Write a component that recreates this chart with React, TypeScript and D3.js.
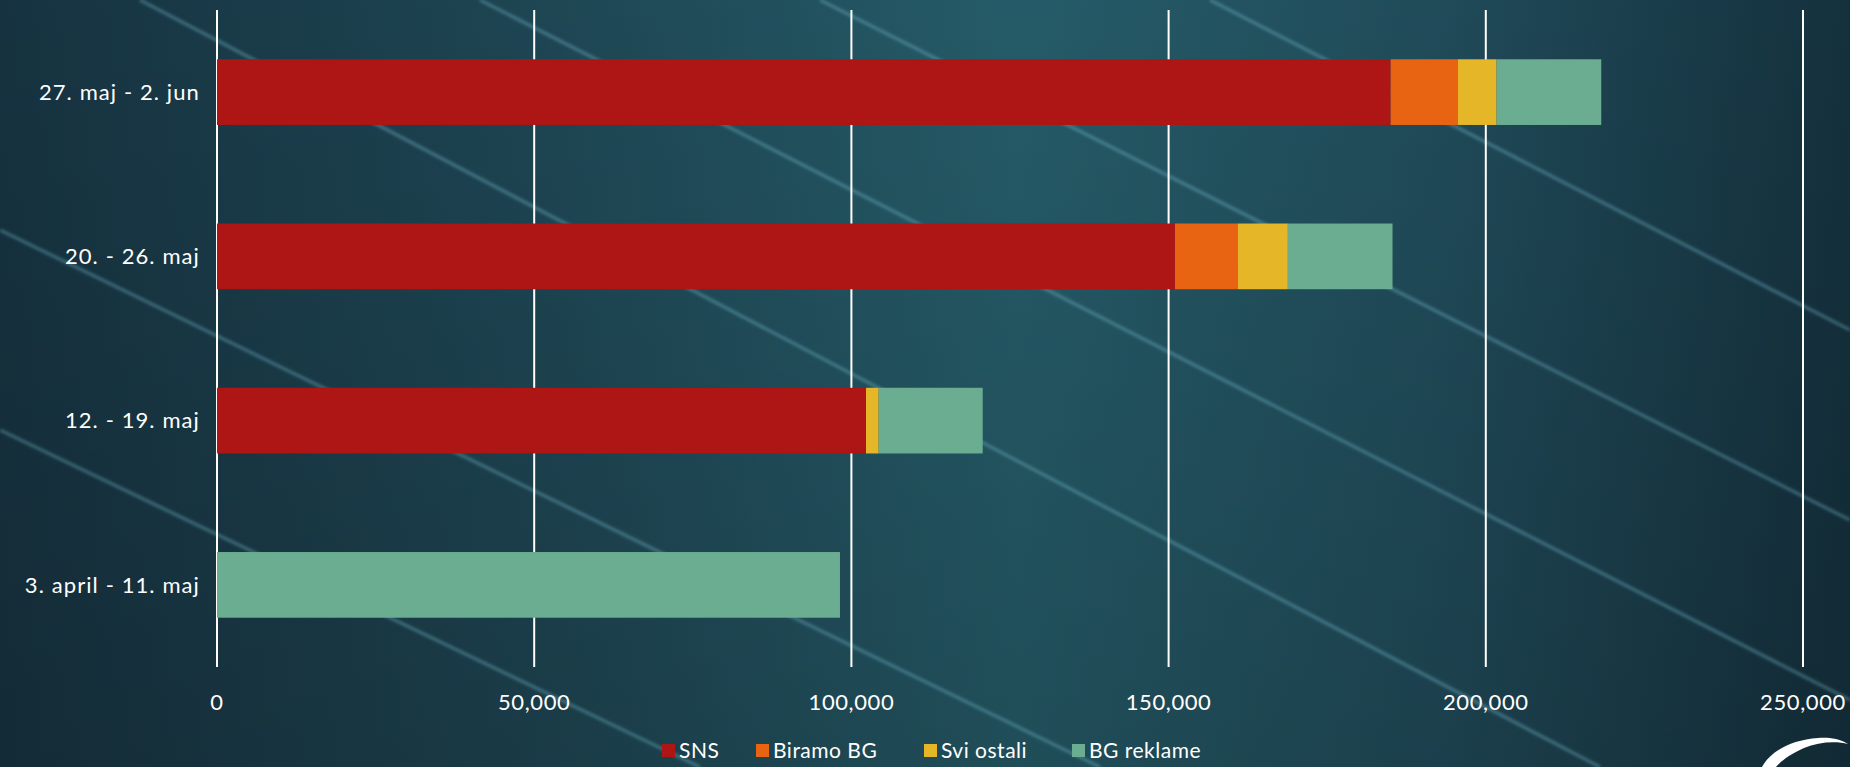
import * as d3 from "d3";
import * as React from "react";
import { useEffect, useRef } from "react";

// data
const periods = ["27. maj - 2. jun", "20. - 26. maj", "12. - 19. maj", "3. april - 11. maj"];
const seriesNames = ["SNS", "Biramo BG", "Svi ostali", "BG reklame"];
const sns = [185000, 151000, 102300, 0];
const biramo = [10600, 9900, 0, 0];
const ostali = [6100, 7900, 2000, 0];
const reklame = [16500, 16500, 16400, 98200];
const ticks = [0, 50000, 100000, 150000, 200000, 250000];
const colors = ["#ae1515", "#e86412", "#e4b628", "#6aad90"];

const W = 1850;
const H = 767;
const FONT = "Lato, 'Open Sans', sans-serif";

export default function App() {
  const ref = useRef<SVGSVGElement>(null);

  useEffect(() => {
    document.body.style.margin = "0";
    const svg = d3.select(ref.current);
    svg.selectAll("*").remove();

    // background
    const defs = svg.append("defs");
    const bg = defs.append("linearGradient").attr("id", "bg").attr("x1", 0).attr("x2", 1).attr("y1", 0).attr("y2", 0);
    bg.append("stop").attr("offset", "0%").attr("stop-color", "#173442");
    bg.append("stop").attr("offset", "30%").attr("stop-color", "#1f4856");
    bg.append("stop").attr("offset", "55%").attr("stop-color", "#265e6b");
    bg.append("stop").attr("offset", "78%").attr("stop-color", "#214d5c");
    bg.append("stop").attr("offset", "100%").attr("stop-color", "#15323f");
    const shade = defs.append("linearGradient").attr("id", "shade").attr("x1", 0).attr("x2", 0).attr("y1", 0).attr("y2", 1);
    shade.append("stop").attr("offset", "0%").attr("stop-color", "#000").attr("stop-opacity", 0.03);
    shade.append("stop").attr("offset", "100%").attr("stop-color", "#000").attr("stop-opacity", 0.18);
    defs.append("filter").attr("id", "soft").append("feGaussianBlur").attr("stdDeviation", 1.6);
    svg.append("rect").attr("width", W).attr("height", H).attr("fill", "url(#bg)");
    svg.append("rect").attr("width", W).attr("height", H).attr("fill", "url(#shade)");

    // soft diagonal streaks
    const streaks: [number, number, number, number][] = [
      [480, 0, 1850, 700],
      [820, 0, 1850, 520],
      [1210, 0, 1850, 330],
      [0, 230, 1100, 767],
      [140, 0, 1600, 767],
      [0, 430, 700, 767],
    ];
    svg.append("g").attr("filter", "url(#soft)").selectAll("line").data(streaks).join("line")
      .attr("x1", d => d[0]).attr("y1", d => d[1]).attr("x2", d => d[2]).attr("y2", d => d[3])
      .attr("stroke", "#7cc2da").attr("stroke-opacity", 0.4).attr("stroke-width", 3);

    const margin = { left: 217, right: 47, top: 10, bottom: 100 };
    const x = d3.scaleLinear().domain([0, 250000]).range([margin.left, W - margin.right]);
    const y = d3.scaleBand().domain(periods).range([margin.top, H - margin.bottom]).paddingInner(0.6).paddingOuter(0.3);

    // gridlines
    svg.append("g").selectAll("line").data(ticks).join("line")
      .attr("x1", d => x(d)).attr("x2", d => x(d))
      .attr("y1", margin.top).attr("y2", H - margin.bottom)
      .attr("stroke", "#ffffff").attr("stroke-width", 2);

    const rows = periods.map((p, i) => ({ period: p, SNS: sns[i], "Biramo BG": biramo[i], "Svi ostali": ostali[i], "BG reklame": reklame[i] }));
    const stacked = d3.stack<any>().keys(seriesNames)(rows);

    svg.append("g").selectAll("g").data(stacked).join("g")
      .attr("fill", (_, i) => colors[i])
      .selectAll("rect").data(d => d.map(v => ({ v, period: v.data.period })))
      .join("rect")
      .attr("x", d => x(d.v[0]))
      .attr("width", d => x(d.v[1]) - x(d.v[0]))
      .attr("y", d => y(d.period)!)
      .attr("height", y.bandwidth());

    // category labels
    svg.append("g").selectAll("text").data(periods).join("text")
      .attr("x", margin.left - 17)
      .attr("y", d => y(d)! + y.bandwidth() / 2)
      .attr("dy", "0.35em")
      .attr("text-anchor", "end")
      .attr("fill", "#ffffff")
      .attr("font-family", FONT)
      .attr("font-size", 22)
      .attr("letter-spacing", 1.1)
      .text(d => d);

    // value tick labels
    svg.append("g").selectAll("text").data(ticks).join("text")
      .attr("x", d => x(d))
      .attr("y", 702)
      .attr("dy", "0.35em")
      .attr("text-anchor", "middle")
      .attr("fill", "#ffffff")
      .attr("font-family", FONT)
      .attr("font-size", 22)
      .attr("letter-spacing", 0.6)
      .text(d => d3.format(",")(d));

    // legend
    const legendX = [662, 756, 924, 1072];
    const lg = svg.append("g").selectAll("g").data(seriesNames).join("g")
      .attr("transform", (_, i) => `translate(${legendX[i]},750)`);
    lg.append("rect").attr("x", 0).attr("y", -6).attr("width", 13).attr("height", 13).attr("fill", (_, i) => colors[i]);
    lg.append("text").attr("x", 17).attr("y", 1).attr("dy", "0.35em")
      .attr("fill", "#ffffff").attr("font-family", FONT).attr("font-size", 21)
      .attr("letter-spacing", 0.5)
      .text(d => d);

    // corner logo swoosh
    svg.append("path")
      .attr("d", "M1762,767 C1770,752 1790,740 1818,738 C1832,737 1842,740 1848,744 C1836,741 1818,742 1804,748 C1790,754 1780,762 1776,767 Z")
      .attr("fill", "#ffffff");
  }, []);

  return <svg ref={ref} width={W} height={H} style={{ display: "block" }} />;
}
